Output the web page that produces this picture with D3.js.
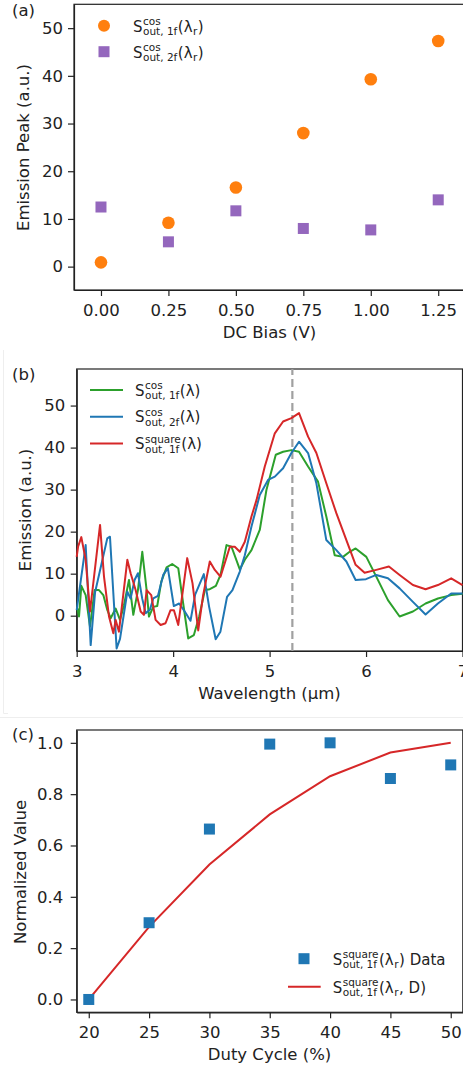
<!DOCTYPE html>
<html>
<head>
<meta charset="utf-8">
<script src="https://cdn.jsdelivr.net/npm/d3@7"></script>
<style>
  body { margin: 0; background: #fff; }
  svg { display: block; font-family: "DejaVu Sans", sans-serif; }
  .axis path, .axis line { stroke: #222; stroke-width: 1.2; }
  .axis text { font-size: 16.5px; fill: #222; font-family: "DejaVu Sans", sans-serif; }
  .lbl { font-size: 16.5px; fill: #222; }
</style>
</head>
<body>
<div id="chart"></div>
<script>
// ---- panel (a): emission peak vs DC bias
const biasV = [0, 0.25, 0.5, 0.75, 1.0, 1.25];
const peakCos1f = [0.9, 9.2, 16.6, 28.0, 39.3, 47.3];
const peakCos2f = [12.5, 5.2, 11.7, 8.0, 7.7, 14.0];
const biasTicks = [0, 0.25, 0.5, 0.75, 1.0, 1.25];
const peakTicks = [0, 10, 20, 30, 40, 50];

// ---- panel (b): emission spectra [wavelength um, emission]
const specCos1f = [[3.007,1.7],[3.024,-0.2],[3.048,7.1],[3.093,4.9],[3.138,-2.6],[3.186,6.1],[3.231,6.1],[3.276,4.9],
  [3.318,1.3],[3.352,-0.6],[3.404,1.7],[3.449,-1.0],[3.490,2.5],[3.542,8.5],[3.587,0.2],[3.635,6.1],[3.680,15.2],
  [3.725,6.1],[3.749,-0.2],[3.794,2.1],[3.835,2.3],[3.877,8.1],[3.932,11.5],[3.990,12.3],[4.053,11.3],[4.104,2.9],
  [4.156,-5.4],[4.215,-4.6],[4.270,-0.2],[4.329,6.1],[4.380,6.3],[4.443,7.1],[4.491,9.7],[4.553,16.8],[4.605,16.4],
  [4.691,11.0],[4.743,13.3],[4.812,15.6],[4.898,20.4],[4.967,29.9],[5.064,38.3],[5.140,39.0],[5.226,39.4],[5.305,39.0],
  [5.399,35.5],[5.502,31.9],[5.588,23.6],[5.675,14.4],[5.761,14.0],[5.830,15.2],[5.892,16.0],[6.003,14.0],[6.106,9.3],
  [6.227,3.7],[6.348,-0.2],[6.486,1.0],[6.617,2.9],[6.745,4.1],[6.883,4.9],[7.000,5.2]];
const specCos2f = [[3.000,1.3],[3.093,16.8],[3.145,-7.0],[3.190,5.5],[3.317,18.4],[3.345,18.8],[3.414,-7.8],[3.449,-5.5],
  [3.525,5.7],[3.559,4.1],[3.600,8.5],[3.635,10.1],[3.680,4.0],[3.715,0.6],[3.760,1.5],[3.794,4.1],[3.842,4.7],
  [3.897,9.7],[3.945,11.3],[4.007,2.3],[4.062,2.9],[4.120,1.0],[4.180,-1.2],[4.228,5.0],[4.318,9.9],[4.373,2.1],
  [4.441,-5.6],[4.490,-3.8],[4.559,4.5],[4.615,6.1],[4.691,10.5],[4.743,14.4],[4.812,21.2],[4.898,28.7],[4.984,32.3],
  [5.054,33.1],[5.140,35.1],[5.226,38.7],[5.305,41.4],[5.399,38.7],[5.485,31.5],[5.588,18.0],[5.692,15.6],[5.796,12.9],
  [5.892,8.5],[5.999,8.7],[6.106,9.7],[6.227,8.9],[6.348,6.5],[6.486,3.3],[6.617,0.3],[6.745,2.9],[6.883,5.3],[7.000,5.3]];
const specSq1f = [[3.000,14.0],[3.014,16.4],[3.048,18.7],[3.093,13.3],[3.138,1.0],[3.242,21.6],[3.283,9.3],[3.335,-0.2],
  [3.380,-4.2],[3.404,-1.0],[3.438,-3.8],[3.525,13.3],[3.559,10.1],[3.611,6.1],[3.663,1.0],[3.697,0.2],[3.725,6.1],
  [3.773,4.9],[3.818,-1.0],[3.870,-2.2],[3.921,-1.8],[3.973,1.3],[4.008,1.3],[4.053,-2.2],[4.146,13.7],[4.201,7.7],
  [4.260,-3.5],[4.311,4.9],[4.380,12.9],[4.432,10.9],[4.491,9.3],[4.588,16.4],[4.639,16.4],[4.691,15.2],[4.743,17.6],
  [4.812,23.6],[4.864,27.5],[4.950,35.5],[5.054,43.4],[5.140,46.2],[5.226,47.0],[5.305,48.2],[5.399,42.6],[5.485,38.7],
  [5.588,31.5],[5.692,24.4],[5.796,18.0],[5.892,12.1],[5.985,10.2],[6.106,10.9],[6.237,11.7],[6.348,9.7],[6.486,7.3],
  [6.617,6.3],[6.745,7.3],[6.883,8.9],[7.000,7.3]];
const resonanceWl = 5.236;
const wlTicks = [3, 4, 5, 6, 7];
const emTicks = [0, 10, 20, 30, 40, 50];

// ---- panel (c): normalized value vs duty cycle
const duty = [20, 25, 30, 35, 40, 45, 50];
const dutyData = [0.0, 0.299, 0.664, 0.995, 1.0, 0.861, 0.914];
const dutyModel = [0.0, 0.283, 0.526, 0.721, 0.870, 0.962, 1.0];
const normTicks = [0, 0.2, 0.4, 0.6, 0.8, 1.0];

const C = { orange: "#ff7f0e", purple: "#9467bd", green: "#2ca02c", blue: "#1f77b4", red: "#d62728" };

const svg = d3.select("#chart").append("svg").attr("width", 463).attr("height", 1070);

// faint edge of the pasted (b) image
svg.append("path").attr("d", "M3.5,350V713.5H8M0,717.5H463").attr("fill", "none")
  .attr("stroke", "#eeeeee").attr("stroke-width", 1);

// draws S^sup_sub(...) style labels piece by piece
function mathLabel(g, x, y, parts, size) {
  let cx = x;
  parts.forEach(p => {
    if (p.n !== undefined) {
      const t = g.append("text").attr("class", "lbl").attr("x", cx).attr("y", y).style("font-size", size + "px").text(p.n);
      cx += t.node().getComputedTextLength();
    } else {
      let w = 0;
      if (p.sup) {
        const t = g.append("text").attr("class", "lbl").attr("x", cx + 0.5).attr("y", y - size * 0.42)
          .style("font-size", size * 0.7 + "px").text(p.sup);
        w = Math.max(w, t.node().getComputedTextLength());
      }
      if (p.sub) {
        const t = g.append("text").attr("class", "lbl").attr("x", cx + 0.5).attr("y", y + size * 0.24)
          .style("font-size", size * 0.7 + "px").text(p.sub);
        w = Math.max(w, t.node().getComputedTextLength());
      }
      cx += w + 1;
    }
  });
  return cx;
}

function frame(x, y) {
  const [x0, x1] = x.range(), [y0, y1] = y.range();
  svg.append("rect").attr("x", x0).attr("y", y1).attr("width", x1 - x0).attr("height", y0 - y1)
    .attr("fill", "none").attr("stroke", "#222").attr("stroke-width", 1.2);
}

function axes(x, y, xTicks, yTicks, xFmt, yFmt, yPad) {
  svg.append("g").attr("class", "axis").attr("transform", `translate(0,${y.range()[0]})`)
    .call(d3.axisBottom(x).tickValues(xTicks).tickFormat(xFmt).tickSize(6).tickPadding(8).tickSizeOuter(0));
  svg.append("g").attr("class", "axis").attr("transform", `translate(${x.range()[0]},0)`)
    .call(d3.axisLeft(y).tickValues(yTicks).tickFormat(yFmt).tickSize(6).tickPadding(yPad).tickSizeOuter(0));
  frame(x, y);
}

function yLabel(txt, x, cy) {
  svg.append("text").attr("class", "lbl").attr("text-anchor", "middle")
    .attr("transform", `translate(${x},${cy}) rotate(-90)`).text(txt);
}

// ================= (a)
{
  const x = d3.scaleLinear().domain([-0.1, 1.35]).range([74, 465.2]);
  const y = d3.scaleLinear().domain([-4.9, 55]).range([290, 4.3]);
  axes(x, y, biasTicks, peakTicks, d3.format(".2f"), d3.format("d"), 5);

  svg.append("g").selectAll("circle").data(biasV).join("circle")
    .attr("cx", d => x(d)).attr("cy", (d, i) => y(peakCos1f[i])).attr("r", 6.3).attr("fill", C.orange);
  svg.append("g").selectAll("rect").data(biasV).join("rect")
    .attr("x", d => x(d) - 5.5).attr("y", (d, i) => y(peakCos2f[i]) - 5.5)
    .attr("width", 11).attr("height", 11).attr("fill", C.purple);

  svg.append("text").attr("class", "lbl").attr("x", 269.5).attr("y", 338).attr("text-anchor", "middle").text("DC Bias (V)");
  yLabel("Emission Peak (a.u.)", 29, 147.5);
  svg.append("text").attr("class", "lbl").attr("x", 12).attr("y", 16).text("(a)");

  const lg = svg.append("g");
  lg.append("circle").attr("cx", 104).attr("cy", 25.7).attr("r", 6).attr("fill", C.orange);
  lg.append("rect").attr("x", 98.5).attr("y", 46.2).attr("width", 11).attr("height", 11).attr("fill", C.purple);
  mathLabel(lg, 133, 31.5, [{ n: "S" }, { sup: "cos", sub: "out, 1f" }, { n: "(λ" }, { sub: "r" }, { n: ")" }], 15);
  mathLabel(lg, 133, 57.5, [{ n: "S" }, { sup: "cos", sub: "out, 2f" }, { n: "(λ" }, { sub: "r" }, { n: ")" }], 15);
}

// ================= (b)
{
  const x = d3.scaleLinear().domain([3, 7]).range([76.7, 462.5]);
  const y = d3.scaleLinear().domain([-8.4, 58.7]).range([651, 369]);
  axes(x, y, wlTicks, emTicks, d3.format("d"), d3.format("d"), 5.5);

  svg.append("line").attr("x1", x(resonanceWl)).attr("x2", x(resonanceWl))
    .attr("y1", y.range()[0]).attr("y2", y.range()[1])
    .attr("stroke", "#a0a0a0").attr("stroke-width", 2.2).attr("stroke-dasharray", "8,4");

  const line = d3.line().x(d => x(d[0])).y(d => y(d[1]));
  [[specCos1f, C.green], [specCos2f, C.blue], [specSq1f, C.red]].forEach(([data, col]) => {
    svg.append("path").datum(data).attr("d", line).attr("fill", "none")
      .attr("stroke", col).attr("stroke-width", 2).attr("stroke-linejoin", "round");
  });

  svg.append("text").attr("class", "lbl").attr("x", 269.5).attr("y", 699).attr("text-anchor", "middle").text("Wavelength (µm)");
  yLabel("Emission (a.u.)", 31, 510);
  svg.append("text").attr("class", "lbl").attr("x", 12).attr("y", 380).text("(b)");

  const lg = svg.append("g");
  const rows = [
    [C.green, [{ n: "S" }, { sup: "cos", sub: "out, 1f" }, { n: "(λ)" }]],
    [C.blue, [{ n: "S" }, { sup: "cos", sub: "out, 2f" }, { n: "(λ)" }]],
    [C.red, [{ n: "S" }, { sup: "square", sub: "out, 1f" }, { n: "(λ)" }]]
  ];
  rows.forEach(([col, parts], i) => {
    const cy = 390 + i * 26.7;
    lg.append("line").attr("x1", 90).attr("x2", 123).attr("y1", cy).attr("y2", cy).attr("stroke", col).attr("stroke-width", 2);
    mathLabel(lg, 135, cy + 5.5, parts, 15);
  });
}

// ================= (c)
{
  const x = d3.scaleLinear().domain([19.0, 51.0]).range([76.7, 462.8]);
  const y = d3.scaleLinear().domain([-0.05, 1.05]).range([1012.3, 730]);
  axes(x, y, duty, normTicks, d3.format("d"), d3.format(".1f"), 7.5);

  svg.append("path").datum(duty).attr("fill", "none").attr("stroke", C.red).attr("stroke-width", 2)
    .attr("d", d3.line().x(d => x(d)).y((d, i) => y(dutyModel[i])));
  svg.append("g").selectAll("rect").data(duty).join("rect")
    .attr("x", d => x(d) - 5.5).attr("y", (d, i) => y(dutyData[i]) - 5.5)
    .attr("width", 11).attr("height", 11).attr("fill", C.blue);

  svg.append("text").attr("class", "lbl").attr("x", 269.5).attr("y", 1060).attr("text-anchor", "middle").text("Duty Cycle (%)");
  yLabel("Normalized Value", 26, 872);
  svg.append("text").attr("class", "lbl").attr("x", 12).attr("y", 740).text("(c)");

  const lg = svg.append("g");
  lg.append("rect").attr("x", 298.5).attr("y", 953.2).attr("width", 11).attr("height", 11).attr("fill", C.blue);
  lg.append("line").attr("x1", 288).attr("x2", 320.7).attr("y1", 986.7).attr("y2", 986.7).attr("stroke", C.red).attr("stroke-width", 2);
  mathLabel(lg, 332.7, 964.5, [{ n: "S" }, { sup: "square", sub: "out, 1f" }, { n: "(λ" }, { sub: "r" }, { n: ") Data" }], 15);
  mathLabel(lg, 332.7, 992.5, [{ n: "S" }, { sup: "square", sub: "out, 1f" }, { n: "(λ" }, { sub: "r" }, { n: ", D)" }], 15);
}
</script>
</body>
</html>
